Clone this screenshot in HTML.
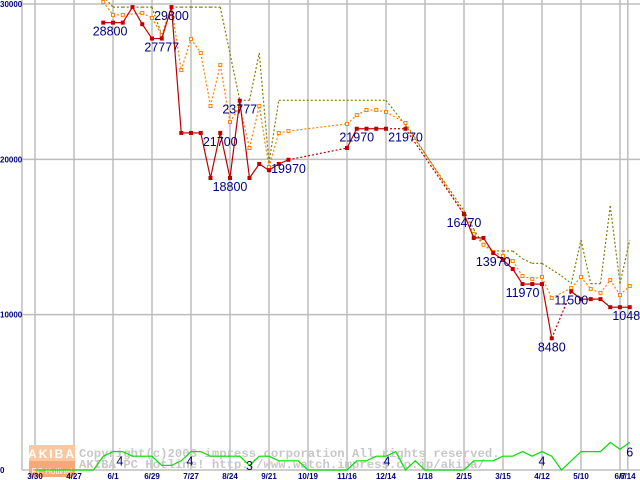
<!DOCTYPE html>
<html><head><meta charset="utf-8"><style>
body{margin:0;background:#fff}
svg{display:block;font-family:"Liberation Sans",sans-serif}
</style></head><body>
<svg id="chart" width="640" height="480" viewBox="0 0 640 480"></svg>
<script>
const tickLabels=["3/30","4/27","6/1","6/29","7/27","8/24","9/21","10/19","11/16","12/14","1/18","2/15","3/15","4/12","5/10","6/7","6/14"];
const tickWeeks=[0,4,8,12,16,20,24,28,32,36,40,44,48,52,56,60,60.8];
const yTicks=[0,10000,20000,30000];
const minWeeks=[7,8,9,10,11,12,13,14,15,16,17,18,19,20,21,22,23,24,25,26,32,33,34,35,36,38,44,45,46,47,48,49,50,51,52,53,55,56,57,58,59,60,61];
const minValues=[28800,28800,28800,29800,28700,27777,27777,29800,21700,21700,21700,18800,21700,18800,23777,18800,19700,19300,19700,19970,20730,21970,21970,21970,21970,21970,16470,14940,14940,13970,13520,12940,11970,11970,11970,8480,11500,11000,11000,11000,10480,10480,10480];
const avgWeeks=[7,8,9,11,12,13,14,15,16,17,18,19,20,21,22,23,24,25,26,32,33,34,35,36,38,44,45,46,47,48,49,50,51,52,53,55,56,57,58,59,60,61];
const avgValues=[30130,29300,29300,29420,29100,28000,29800,25750,27750,26850,23430,26070,22400,23430,20730,23430,19500,21700,21820,22280,22850,23180,23180,23050,22340,16470,15200,14500,14030,13780,13450,12490,12300,12420,11070,11720,12420,11650,11400,12230,11270,11850];
const maxWeeks=[7,8,9,10,11,12,13,14,15,16,17,18,19,21,22,23,24,25,36,38,44,45,46,47,48,49,50,51,52,53,54,55,56,57,58,59,60,61];
const maxValues=[30500,29800,29800,29800,29800,29800,28000,29800,29800,29800,29800,29800,29800,23800,23800,26850,19770,23800,23800,22200,16700,15500,14500,14100,14100,14100,13600,13300,13300,12900,12500,12000,14800,12000,12000,17000,12000,14800];
const countValues=[0,0,0,0,0,0,0,3,4,4,3,3,3,1,1,2,4,4,3,3,3,3,1,3,3,2,2,2,0,0,0,0,0,2,2,3,3,4,0,2,0,0,0,0,0,2,2,2,3,3,4,3,4,3,0,2,4,4,4,6,4.5,6];
const priceLabels=["28800","29800","27777","21700","18800","23777","19970","21970","21970","16470","13970","11970","11500","8480","10480"];
const priceLabelWeeks=[7.7,14,13,19,20,21,26,33,38,44,47,50,55,53,61];
const priceLabelValues=[28800,29800,27777,21700,18800,23777,19970,21970,21970,16470,13970,11970,11500,8480,10480];
const countLabels=["4","4","3","4","4","6"];
const countLabelWeeks=[8.7,15.9,22,36.1,52,61];
const countLabelValues=[4,4,3,4,4,6];

const svg=document.getElementById('chart');
const NS='http://www.w3.org/2000/svg';
const x=w=>35+w*9.75;
const y=v=>470-v*0.015533;
const yc=c=>470-c*4.6;
function mk(tag,attrs,parent){const e=document.createElementNS(NS,tag);for(const k in attrs)e.setAttribute(k,attrs[k]);(parent||svg).appendChild(e);return e;}

const grid=mk('g',{});


tickWeeks.forEach(w=>mk('line',{x1:x(w),x2:x(w),y1:0,y2:470,stroke:'#bdbdbd','stroke-width':1.5},grid));
yTicks.forEach(v=>mk('line',{x1:22,x2:640,y1:y(v),y2:y(v),stroke:'#bdbdbd','stroke-width':1.5},grid));
mk('line',{x1:22,x2:22,y1:0,y2:470,stroke:'#bdbdbd','stroke-width':1.5},grid);

const wm=mk('g',{});


mk('rect',{x:29,y:445,width:46,height:16,fill:'#f9c7a0'},wm);
mk('rect',{x:29,y:461,width:46,height:16,fill:'#f5a878'},wm);
let t=mk('text',{x:52,y:458,'font-size':12,'font-weight':'bold',fill:'#fff','text-anchor':'middle','letter-spacing':2},wm);t.textContent='AKIBA';
t=mk('text',{x:52,y:474,'font-size':8,fill:'#fff','text-anchor':'middle'},wm);t.textContent='PC Hotline!';
t=mk('text',{x:79,y:457,'font-size':12.3,'font-weight':'bold',fill:'#c8c8c8','font-family':'Liberation Mono,monospace'},wm);t.textContent='Copyright(c)2003 impress corporation All rights reserved.';
t=mk('text',{x:79,y:468,'font-size':12.3,'font-weight':'bold',fill:'#c8c8c8','font-family':'Liberation Mono,monospace'},wm);t.textContent='AKIBA PC Hotline!  http://www.watch.impress.co.jp/akiba/';

function series(weeks,vals,color,name,solidConsecutive,markerFill,dash){
  const g=mk('g',{});
  
  
  for(let i=1;i<weeks.length;i++){
    const cons=solidConsecutive&&weeks[i]-weeks[i-1]===1;
    mk('line',{x1:x(weeks[i-1]),y1:y(vals[i-1]),x2:x(weeks[i]),y2:y(vals[i]),stroke:color,'stroke-width':1.2,'stroke-dasharray':cons?'none':dash},g);
  }
  if(markerFill!==null){
    weeks.forEach((w,i)=>{
      const m=mk('rect',{x:x(w)-1.5,y:y(vals[i])-1.5,width:3,height:3,fill:markerFill,stroke:color,'stroke-width':1},g);
      
      
    });
  }
}
series(maxWeeks,maxValues,'#808000','max-price-line',false,null,'2,2');
series(avgWeeks,avgValues,'#ff8000','avg-price-line',false,'#fff','2,2');
series(minWeeks,minValues,'#c00000','min-price-line',true,'#c00000','2,2');

const cg=mk('g',{});


mk('polyline',{points:countValues.map((c,i)=>x(i)+','+yc(c)).join(' '),fill:'none',stroke:'#00e000','stroke-width':1.2},cg);

priceLabels.forEach((s,i)=>{
  const e=mk('text',{x:x(priceLabelWeeks[i]),y:y(priceLabelValues[i])+13,'font-size':12.5,fill:'#000080','text-anchor':'middle'});
  
  
  e.textContent=s;
});
countLabels.forEach((s,i)=>{
  const e=mk('text',{x:x(countLabelWeeks[i]),y:yc(countLabelValues[i])+14,'font-size':12.5,fill:'#000080','text-anchor':'middle'});
  
  
  e.textContent=s;
});
tickLabels.forEach((s,i)=>{
  const e=mk('text',{x:x(tickWeeks[i]),y:479,'font-size':8,'font-weight':'bold',fill:'#000080','text-anchor':'middle'});
  
  
  e.textContent=s;
});
yTicks.forEach(v=>{
  const e=mk('text',{x:0,y:y(v)+3,'font-size':8,'font-weight':'bold',fill:'#000080'});
  
  
  e.textContent=String(v);
});
</script>
</body></html>
